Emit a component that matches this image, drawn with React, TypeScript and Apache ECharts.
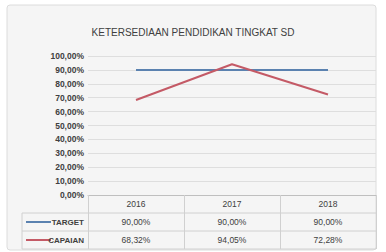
import React, { useEffect, useRef } from "react";
import * as echarts from "echarts";

const title = "KETERSEDIAAN PENDIDIKAN TINGKAT SD";
const categories = ["2016", "2017", "2018"];
const seriesNames = ["TARGET", "CAPAIAN"];
const targetValues = [0.9, 0.9, 0.9];
const capaianValues = [0.6832, 0.9405, 0.7228];
const colors = ["#5b82b0", "#c45a66"];

const pct = (v: number) => (v * 100).toFixed(2).replace(".", ",") + "%";

export default function App() {
  const ref = useRef<HTMLDivElement>(null);
  useEffect(() => {
    document.body.style.margin = "0";
    const chart = echarts.init(ref.current!, null, { renderer: "svg" });
    const font = "Liberation Sans, Arial, sans-serif";
    const rows = [targetValues, capaianValues];
    const graphics: any[] = [
      {
        type: "rect",
        shape: { x: 7, y: 5, width: 369, height: 245, r: 3 },
        style: { fill: "#f5f5f5", stroke: "#dcdcdc", lineWidth: 1 },
        z: -10,
      },
    ];
    const rowY = [213, 231, 249];
    rowY.forEach((y) => {
      graphics.push({
        type: "line",
        shape: { x1: 22, y1: y, x2: 376, y2: y },
        style: { stroke: "#d0d0d0", lineWidth: 1 },
      });
    });
    graphics.push({
      type: "line",
      shape: { x1: 22, y1: 213, x2: 22, y2: 249 },
      style: { stroke: "#d0d0d0", lineWidth: 1 },
    });
    seriesNames.forEach((name, i) => {
      const cy = 222 + i * 18;
      graphics.push({
        type: "line",
        shape: { x1: 26, y1: cy, x2: 51, y2: cy },
        style: { stroke: colors[i], lineWidth: 2 },
      });
      graphics.push({
        type: "text",
        x: 84,
        y: cy,
        style: {
          text: name,
          align: "right",
          verticalAlign: "middle",
          fill: "#404040",
          font: `bold 8px ${font}`,
        },
      });
    });
    chart.setOption({
      animation: false,
      backgroundColor: "#ffffff",
      title: {
        text: title,
        left: "center",
        top: 22,
        textStyle: { fontSize: 10, fontWeight: "normal", color: "#404040", fontFamily: font },
      },
      grid: { left: 88, right: 10, top: 56, bottom: 57 },
      xAxis: {
        type: "category",
        data: categories,
        boundaryGap: true,
        axisLine: { lineStyle: { color: "#bfbfbf" } },
        axisTick: { show: true, length: 54, interval: 0, lineStyle: { color: "#d0d0d0" } },
        axisLabel: {
          margin: 0,
          interval: 0,
          formatter: (v: string, i: number) =>
            `{h|${v}}\n{v|${pct(rows[0][i])}}\n{v|${pct(rows[1][i])}}`,
          rich: {
            h: { fontSize: 8.5, lineHeight: 18, color: "#404040", fontFamily: font },
            v: { fontSize: 8.5, lineHeight: 18, color: "#404040", fontFamily: font },
          },
        },
      },
      yAxis: {
        type: "value",
        min: 0,
        max: 1,
        interval: 0.1,
        axisLine: { show: false },
        axisTick: { show: false },
        splitLine: { lineStyle: { color: "#dedede" } },
        axisLabel: {
          formatter: (v: number) => pct(v),
          fontSize: 8.5,
          fontWeight: "bold",
          color: "#404040",
          fontFamily: font,
          margin: 4,
        },
      },
      series: [
        {
          name: seriesNames[0],
          type: "line",
          data: targetValues,
          showSymbol: false,
          lineStyle: { color: colors[0], width: 2 },
          itemStyle: { color: colors[0] },
        },
        {
          name: seriesNames[1],
          type: "line",
          data: capaianValues,
          showSymbol: false,
          lineStyle: { color: colors[1], width: 2 },
          itemStyle: { color: colors[1] },
        },
      ],
      graphic: graphics,
    });
    return () => chart.dispose();
  }, []);
  return <div ref={ref} style={{ width: 386, height: 252 }} />;
}
